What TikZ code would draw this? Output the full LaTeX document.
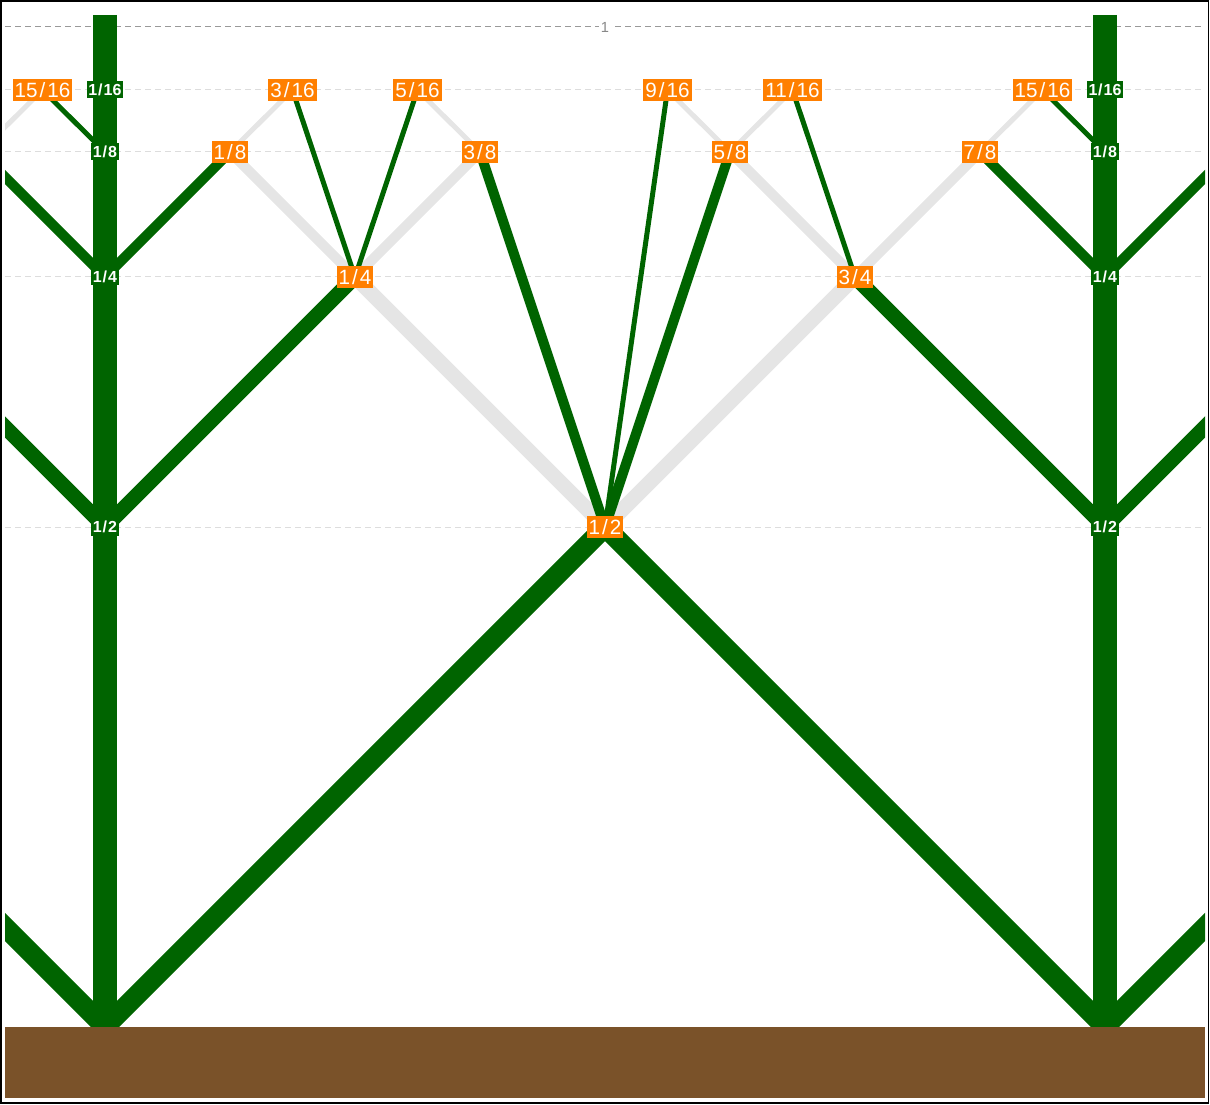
\documentclass[tikz,border=0pt]{standalone}
\usepackage{fontspec}
\setmainfont{Liberation Sans}
\definecolor{stem}{HTML}{006400}
\definecolor{shade}{HTML}{E5E5E5}
\definecolor{lab}{HTML}{FF7F00}
\definecolor{soil}{HTML}{7A5229}
\definecolor{gridc}{HTML}{DDDDDD}
\definecolor{gridtop}{HTML}{999999}
\definecolor{toptext}{HTML}{888888}
\begin{document}
\begin{tikzpicture}[x=0.75pt,y=-0.75pt,
  gline/.style={draw=gridc, line width=0.75pt, dash pattern=on 4.5pt off 3pt},
  gtop/.style={draw=gridtop, line width=0.75pt, dash pattern=on 4.5pt off 3pt},
  branch/.style={draw=stem, line cap=butt},
  ghost/.style={draw=shade, line cap=butt},
  wa/.style={line width=15pt},
  wb/.style={line width=11.25pt},
  wc/.style={line width=7.5pt},
  wd/.style={line width=3.75pt},
  olab/.style={fill=lab, text=white, font=\fontsize{15.5}{15.5}\selectfont,
    inner xsep=1.5pt, inner ysep=0pt, minimum height=16.5pt,
    text height=11.1pt, text depth=0pt},
  tlab/.style={fill=stem, text=white, font=\bfseries\fontsize{12}{12}\selectfont,
    inner xsep=1.2pt, inner ysep=0pt, minimum height=12.75pt,
    text height=8.6pt, text depth=0pt},
  toplab/.style={fill=white, text=toptext, font=\fontsize{11}{11}\selectfont, inner xsep=1.5pt, inner ysep=0.5pt}
]
\useasboundingbox (0,0) rectangle (1210,1105);

% coordinates
\coordinate (g0) at (105,1027);   \coordinate (g1) at (1105,1027);
\coordinate (t0h) at (105,527);   \coordinate (t1h) at (1105,527);
\coordinate (t0q) at (105,277);   \coordinate (t1q) at (1105,277);
\coordinate (t0e) at (105,152);   \coordinate (t1e) at (1105,152);
\coordinate (t0s) at (105,90);    \coordinate (t1s) at (1105,90);
\coordinate (t0top) at (105,15);  \coordinate (t1top) at (1105,15);
\coordinate (om) at (-395,527);   \coordinate (op) at (1605,527);
\coordinate (omq) at (-145,277);  \coordinate (opq) at (1355,277);
\coordinate (ome) at (-20,152);   \coordinate (ope) at (1230,152);
\coordinate (n12) at (605,527);
\coordinate (n14) at (355,277);   \coordinate (n34) at (855,277);
\coordinate (n18) at (230,152);   \coordinate (n38) at (480,152);
\coordinate (n58) at (730,152);   \coordinate (n78) at (980,152);
\coordinate (n316) at (292.5,90); \coordinate (n516) at (417.5,90);
\coordinate (n916) at (667.5,90); \coordinate (n1116) at (792.5,90);
\coordinate (n1516) at (1042.5,90); \coordinate (n1516l) at (42.5,90);

% grid lines
\draw[gtop] (5,27) -- (1205,27);
\draw[gline] (5,90) -- (1205,90);
\draw[gline] (5,152) -- (1205,152);
\draw[gline] (5,277) -- (1205,277);
\draw[gline] (5,527) -- (1205,527);
\node[toplab] (one) at (605,27) {1};

\begin{scope}
\clip (5,5) rectangle (1205,1098);
% gray edges
\draw[ghost,wb] (n12) -- (n14);
\draw[ghost,wb] (n12) -- (n34);
\draw[ghost,wc] (n14) -- (n18);
\draw[ghost,wc] (n14) -- (n38);
\draw[ghost,wc] (n34) -- (n58);
\draw[ghost,wc] (n34) -- (n78);
\draw[ghost,wd] (n18) -- (n316);
\draw[ghost,wd] (n38) -- (n516);
\draw[ghost,wd] (n58) -- (n916);
\draw[ghost,wd] (n58) -- (n1116);
\draw[ghost,wd] (n78) -- (n1516);
\draw[ghost,wd] (ome) -- (n1516l);
% green edges
\draw[branch,wa] (g0) -- (n12);
\draw[branch,wa] (g1) -- (n12);
\draw[branch,wa] (g0) -- (om);
\draw[branch,wa] (g1) -- (op);
\draw[branch,wb] (t0h) -- (n14);
\draw[branch,wb] (t0h) -- (omq);
\draw[branch,wb] (t1h) -- (n34);
\draw[branch,wb] (t1h) -- (opq);
\draw[branch,wc] (t0q) -- (n18);
\draw[branch,wc] (t0q) -- (ome);
\draw[branch,wc] (t1q) -- (n78);
\draw[branch,wc] (t1q) -- (ope);
\draw[branch,wd] (t0e) -- (n1516l);
\draw[branch,wd] (t1e) -- (n1516);
\draw[branch,wc] (n12) -- (n38);
\draw[branch,wc] (n12) -- (n58);
\draw[branch,wd] (n12) -- (n916);
\draw[branch,wd] (n14) -- (n316);
\draw[branch,wd] (n14) -- (n516);
\draw[branch,wd] (n34) -- (n1116);
\end{scope}

% trunks
\draw[branch,line width=18pt] (t0top) -- (g0);
\draw[branch,line width=18pt] (t1top) -- (g1);

% ground
\fill[soil] (5,1027) rectangle (1205,1098);

% trunk labels
\node[tlab] (l0h) at (t0h) {1\kern0.6pt/\kern0.8pt2};
\node[tlab] (l0q) at (t0q) {1\kern0.6pt/\kern0.8pt4};
\node[tlab] (l0e) at (t0e) {1\kern0.6pt/\kern0.8pt8};
\node[tlab] (l0s) at (t0s) {1\kern0.6pt/\kern0.8pt16};
\node[tlab] (l1h) at (t1h) {1\kern0.6pt/\kern0.8pt2};
\node[tlab] (l1q) at (t1q) {1\kern0.6pt/\kern0.8pt4};
\node[tlab] (l1e) at (t1e) {1\kern0.6pt/\kern0.8pt8};
\node[tlab] (l1s) at (t1s) {1\kern0.6pt/\kern0.8pt16};

% orange labels
\node[olab] (a12) at (n12) {1\kern1.5pt/\kern1.5pt2};
\node[olab] (a14) at (n14) {1\kern1.5pt/\kern1.5pt4};
\node[olab] (a34) at (n34) {3\kern1.5pt/\kern1.5pt4};
\node[olab] (a18) at (n18) {1\kern1.5pt/\kern1.5pt8};
\node[olab] (a38) at (n38) {3\kern1.5pt/\kern1.5pt8};
\node[olab] (a58) at (n58) {5\kern1.5pt/\kern1.5pt8};
\node[olab] (a78) at (n78) {7\kern1.5pt/\kern1.5pt8};
\node[olab] (a316) at (n316) {3\kern1.5pt/\kern1.5pt16};
\node[olab] (a516) at (n516) {5\kern1.5pt/\kern1.5pt16};
\node[olab] (a916) at (n916) {9\kern1.5pt/\kern1.5pt16};
\node[olab] (a1116) at (n1116) {11\kern1.5pt/\kern1.5pt16};
\node[olab] (a1516) at (n1516) {15\kern1.5pt/\kern1.5pt16};
\node[olab] (a1516l) at (n1516l) {15\kern1.5pt/\kern1.5pt16};

% frame
\draw[line width=1.1pt] (0.8,0.8) rectangle (1208.6,1103.2);
\end{tikzpicture}
\end{document}
